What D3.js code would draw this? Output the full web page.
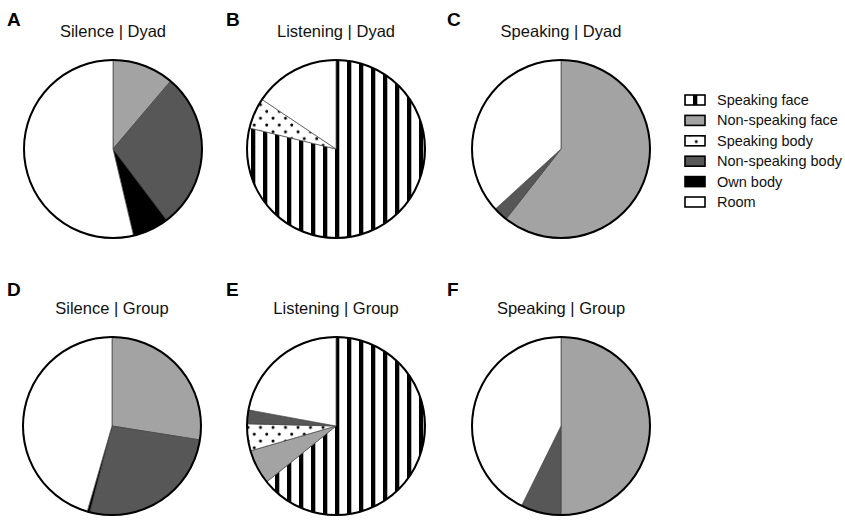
<!DOCTYPE html>
<html>
<head>
<meta charset="utf-8">
<script src="https://cdn.jsdelivr.net/npm/d3@7"></script>
<style>
  html, body { margin: 0; padding: 0; background: #fff; }
  svg { display: block; font-family: "Liberation Sans", Arial, sans-serif; }
</style>
</head>
<body>
<svg id="chart" width="845" height="521"></svg>
<script>
// ---- data ----
const categories = ["Speaking face", "Non-speaking face", "Speaking body", "Non-speaking body", "Own body", "Room"];
const panelLetters = ["A", "B", "C", "D", "E", "F"];
const panelTitles = ["Silence | Dyad", "Listening | Dyad", "Speaking | Dyad", "Silence | Group", "Listening | Group", "Speaking | Group"];
const silenceDyad    = [0, 11.2, 0, 28.5, 6.6, 53.7];
const listeningDyad  = [78.8, 0, 5.6, 0, 0, 15.6];
const speakingDyad   = [0, 60.6, 0, 2.6, 0, 36.8];
const silenceGroup   = [0, 27.5, 0, 26.5, 0.5, 45.5];
const listeningGroup = [64.2, 6.3, 4.9, 2.5, 0, 22.1];
const speakingGroup  = [0, 50, 0, 7.3, 0, 42.7];
const seriesList = [silenceDyad, listeningDyad, speakingDyad, silenceGroup, listeningGroup, speakingGroup];

// ---- layout ----
const svg = d3.select("#chart");
const R = 89;
const centers = [[113, 149], [336, 149], [561, 149], [112, 426], [336, 426], [561, 426]];
const letterX = [7, 226, 447, 7, 226, 447];
const letterBase = [26, 26, 26, 296, 296, 296];
const titleBase = [37, 37, 37, 314, 314, 314];

const defs = svg.append("defs");
function stripePattern(id, x0) {
  const p = defs.append("pattern").attr("id", id).attr("patternUnits", "userSpaceOnUse")
    .attr("x", x0).attr("y", 0).attr("width", 12).attr("height", 12);
  p.append("rect").attr("width", 12).attr("height", 12).attr("fill", "#fff");
  p.append("rect").attr("x", 0).attr("width", 4.3).attr("height", 12).attr("fill", "#000");
}
function dotPattern(id, x0, y0) {
  const p = defs.append("pattern").attr("id", id).attr("patternUnits", "userSpaceOnUse")
    .attr("x", x0).attr("y", y0).attr("width", 12.5).attr("height", 13.6);
  p.append("rect").attr("width", 12.5).attr("height", 13.6).attr("fill", "#fff");
  p.append("circle").attr("cx", 3).attr("cy", 3).attr("r", 1.5).attr("fill", "#000");
  p.append("circle").attr("cx", 9.25).attr("cy", 9.8).attr("r", 1.5).attr("fill", "#000");
}

const color = d3.scaleOrdinal().domain(categories)
  .range(["stripe", "#a3a3a3", "dots", "#575757", "#000000", "#ffffff"]);

function fillFor(cat, idx) {
  const c = color(cat);
  if (c === "stripe") return `url(#stripe${idx})`;
  if (c === "dots") return `url(#dots${idx})`;
  return c;
}

const pie = d3.pie().sort(null).value(d => d);
const arc = d3.arc().innerRadius(0).outerRadius(R);

seriesList.forEach((vals, i) => {
  const [cx, cy] = centers[i];
  stripePattern("stripe" + i, cx - 1);
  dotPattern("dots" + i, cx - 2, cy - 6);
  const g = svg.append("g").attr("transform", `translate(${cx},${cy})`);
  const data = pie(vals.map((v, k) => ({ v, cat: categories[k] })).map(d => d.v));
  g.selectAll("path.slice")
    .data(data.filter(d => d.data > 0))
    .join("path")
    .attr("class", "slice")
    .attr("d", arc)
    .attr("fill", d => fillFor(categories[d.index], i))
    .attr("stroke", "#444")
    .attr("stroke-width", 0.7);
  g.append("circle").attr("r", R).attr("fill", "none").attr("stroke", "#000").attr("stroke-width", 2);

  svg.append("text").attr("x", letterX[i]).attr("y", letterBase[i])
    .attr("font-size", 19).attr("font-weight", "bold").attr("fill", "#000")
    .text(panelLetters[i]);
  svg.append("text").attr("x", cx).attr("y", titleBase[i])
    .attr("text-anchor", "middle").attr("font-size", 16.5).attr("fill", "#111")
    .text(panelTitles[i]);
});

// ---- legend ----
const legX = 685, legY0 = 100, legStep = 20.4;
const leg = svg.append("g");
stripePattern("stripeLeg", legX + 8);
dotPattern("dotsLeg", legX + 2, legY0 + 2 * legStep - 9);
categories.forEach((cat, k) => {
  const y = legY0 + k * legStep;
  let f = color(cat);
  if (f === "stripe") f = "url(#stripeLeg)";
  else if (f === "dots") f = "url(#dotsLeg)";
  leg.append("rect").attr("x", legX).attr("y", y - 5).attr("width", 20).attr("height", 10)
    .attr("fill", f).attr("stroke", "#000").attr("stroke-width", 1.6);
  leg.append("text").attr("x", legX + 32).attr("y", y + 5)
    .attr("font-size", 14.5).attr("fill", "#111").text(cat);
});
</script>
</body>
</html>
